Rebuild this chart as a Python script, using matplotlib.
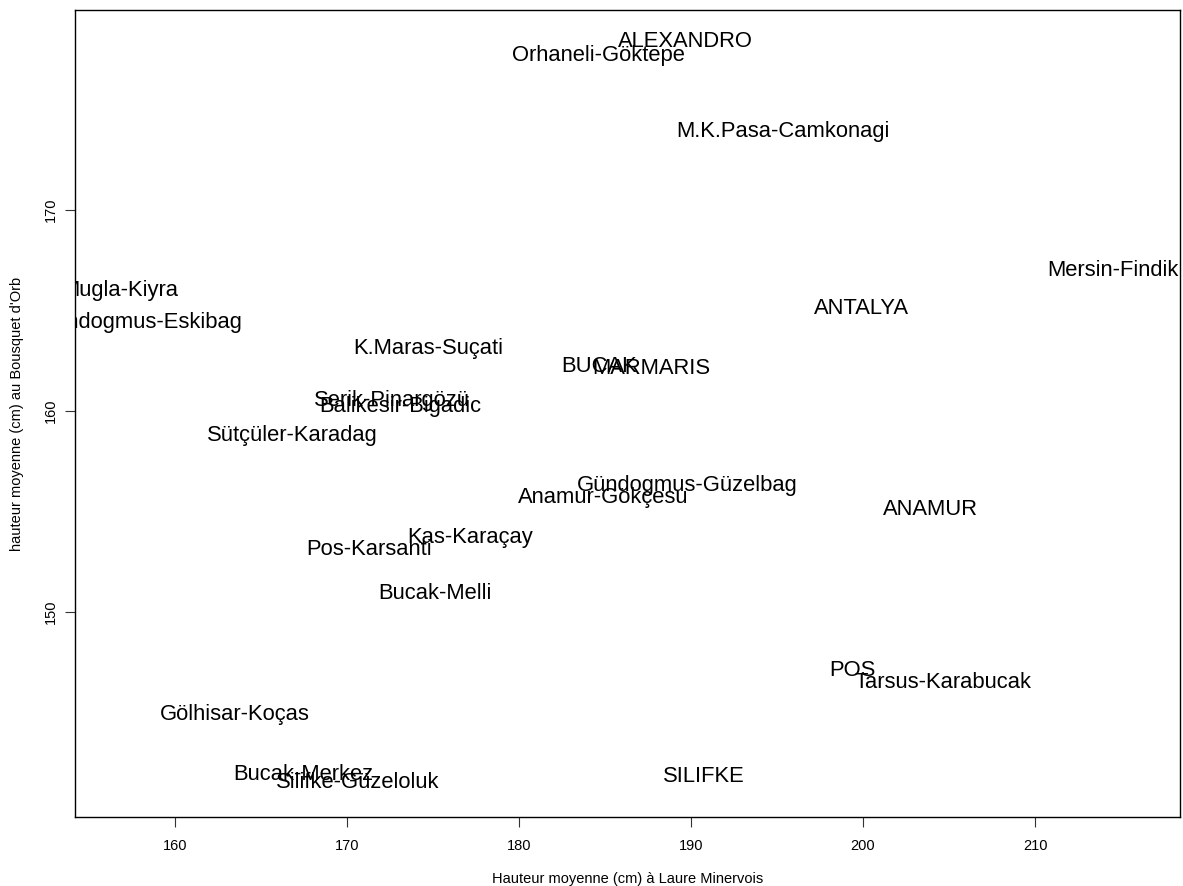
import matplotlib
matplotlib.use("Agg")
import matplotlib.pyplot as plt

plt.rcParams["font.family"] = ["Liberation Sans", "DejaVu Sans"]

# populations and mean heights (cm) at the two sites
populations = [
    "ALEXANDRO", "Orhaneli-Göktepe", "M.K.Pasa-Camkonagi", "Mersin-Findik",
    "Mugla-Kiyra", "Gündogmus-Eskibag", "ANTALYA", "K.Maras-Suçati",
    "BUCAK", "MARMARIS", "Serik-Pinargözü", "Balikesir-Bigadic",
    "Sütçüler-Karadag", "Gündogmus-Güzelbag", "Anamur-Gökçesu", "ANAMUR",
    "Kas-Karaçay", "Pos-Karsanti", "Bucak-Melli", "POS",
    "Tarsus-Karabucak", "Gölhisar-Koças", "Bucak-Merkez", "Silifke-Güzeloluk",
    "SILIFKE",
]
laure = [
    189.7, 184.6, 195.35, 214.5,
    156.8, 158.0, 199.9, 174.7,
    184.65, 187.7, 172.6, 173.1,
    166.8, 189.8, 184.9, 203.9,
    177.15, 171.3, 175.1, 199.4,
    204.65, 163.5, 167.45, 170.65,
    190.75,
]
bousquet = [
    178.4, 177.7, 173.9, 167.0,
    166.0, 164.4, 165.1, 163.1,
    162.2, 162.1, 160.5, 160.2,
    158.8, 156.3, 155.7, 155.1,
    153.7, 153.1, 150.9, 147.1,
    146.5, 144.9, 141.9, 141.5,
    141.8,
]

fig = plt.figure(figsize=(11.83, 8.86), dpi=100)
ax = fig.add_axes([0.0634, 0.0779, 0.9341, 0.9108])

for name, x, y in zip(populations, laure, bousquet):
    ax.text(x, y, name, fontsize=15.8, ha="center", va="center", clip_on=True)

ax.set_xlim(154.19, 218.43)
ax.set_ylim(139.8, 179.95)
ax.set_xticks([160, 170, 180, 190, 200, 210])
ax.set_yticks([150, 160, 170])
ax.tick_params(axis="both", labelsize=10.5, length=7, width=0.8, colors="#333333", labelcolor="black")
ax.tick_params(axis="x", pad=9)
ax.tick_params(axis="y", pad=5)
for lab in ax.get_yticklabels():
    lab.set_rotation(90)
    lab.set_va("center")
for sp in ax.spines.values():
    sp.set_linewidth(1)

ax.set_xlabel("Hauteur moyenne (cm) à Laure Minervois", fontsize=10.5, va="center")
ax.set_ylabel("hauteur moyenne (cm) au Bousquet d'Orb", fontsize=10.5, va="center")
ax.xaxis.set_label_coords(0.5, -0.0768)
ax.yaxis.set_label_coords(-0.0525, 0.5)

fig.savefig("out.png", dpi=100)
